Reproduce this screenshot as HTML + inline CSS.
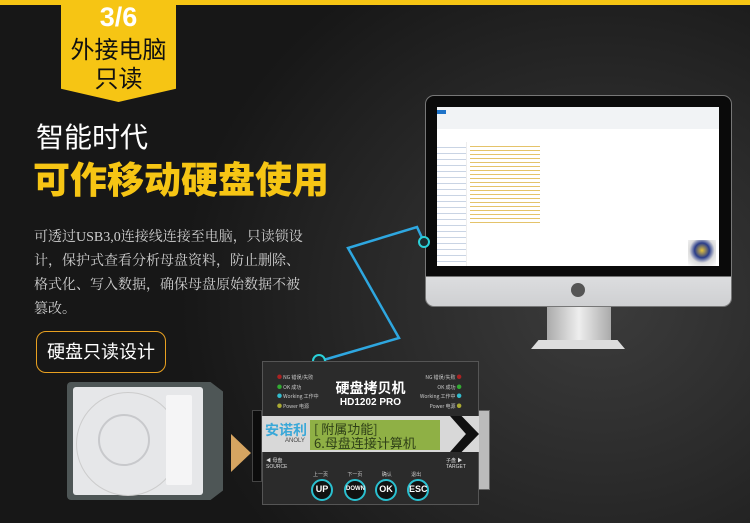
<!DOCTYPE html>
<html><head><meta charset="utf-8"><style>
*{margin:0;padding:0;box-sizing:border-box}
body{width:750px;height:523px;overflow:hidden;position:relative;font-family:"Liberation Sans","Noto Sans CJK SC",sans-serif;
background:radial-gradient(ellipse 420px 380px at 600px 300px,#3c3c3c 0%,#2a2a2a 50%,#171717 100%),#171717;}
.a{position:absolute}
.topbar{left:0;top:0;width:750px;height:5px;background:#f6c514}
.badge{left:61px;top:0;width:115px;height:102px;background:#f6c514;clip-path:polygon(0 0,100% 0,100% 87%,50% 100%,0 87%);text-align:center}
.t{white-space:nowrap}
.btn{position:absolute;top:0;width:22px;height:22px;border-radius:50%;border:2.5px solid #2ac0d0;background:#111;text-align:center;line-height:17px}
</style></head><body>
<div class="a topbar"></div>
<div class="a badge">
 <div class="a t" style="left:0;width:115px;top:2px;font-size:27px;font-weight:bold;color:#fff;line-height:30px">3/6</div>
 <div class="a t" style="left:0;width:115px;top:34px;font-size:24px;color:#111;line-height:28px;font-family:'Noto Sans CJK SC',sans-serif">外接电脑</div>
 <div class="a t" style="left:0;width:115px;top:63px;font-size:24px;color:#111;line-height:28px;font-family:'Noto Sans CJK SC',sans-serif">只读</div>
</div>
<div class="a t" style="left:36px;top:119px;font-size:28px;color:#fff;line-height:34px;font-family:'Noto Sans CJK SC',sans-serif">智能时代</div>
<div class="a t" style="left:33px;top:155px;font-size:37px;font-weight:900;color:#f6c514;line-height:44px;font-family:'Noto Sans CJK SC',sans-serif">可作移动硬盘使用</div>
<div class="a" style="left:34px;top:226px;width:270px;font-size:14px;line-height:24px;color:#cfcfcf;font-family:'Liberation Serif','Noto Serif CJK SC',serif">可透过USB3,0连接线连接至电脑，只读锁设计，保护式查看分析母盘资料，防止删除、格式化、写入数据，确保母盘原始数据不被篡改。</div>
<div class="a" style="left:36px;top:331px;width:130px;height:42px;border:1.5px solid #e8a020;border-radius:10px;color:#fff;font-size:18px;line-height:39px;text-align:center;font-family:'Noto Sans CJK SC',sans-serif">硬盘只读设计</div>

<!-- monitor -->
<div class="a" style="left:425px;top:95px;width:307px;height:212px;border-radius:9px;background:linear-gradient(#0a0a0a 0,#0a0a0a 86%,#dcdddf 86%,#cfd0d2 100%);border:1px solid #777"></div>
<div class="a" style="left:437px;top:107px;width:282px;height:159px;background:#fff"></div>
<div class="a" style="left:437px;top:107px;width:282px;height:22px;background:#f1f3f5"></div>
<div class="a" style="left:437px;top:110px;width:9px;height:4px;background:#1e73c8"></div>
<div class="a" style="left:437px;top:142px;width:30px;height:124px;border-right:1px solid #eee;background:repeating-linear-gradient(#fff 0,#fff 5px,#c9d4e4 5px,#c9d4e4 6px)"></div>
<div class="a" style="left:470px;top:144px;width:70px;height:80px;background:repeating-linear-gradient(#fff 0,#fff 2px,#e4c36a 2px,#e4c36a 3px,#fff 3px,#fff 4px)"></div>
<div class="a" style="left:688px;top:240px;width:28px;height:26px;background:radial-gradient(circle at 50% 40%,#e7c43a 0,#2a3d8a 35%,#ddd 60%,#fff 100%)"></div>
<div class="a" style="left:571px;top:283px;width:14px;height:14px;border-radius:50%;background:#555"></div>
<div class="a" style="left:547px;top:307px;width:64px;height:34px;background:linear-gradient(90deg,#aaa,#eee 50%,#aaa)"></div>
<div class="a" style="left:531px;top:340px;width:94px;height:9px;background:#ddd;clip-path:polygon(8% 0,92% 0,100% 100%,0 100%)"></div>

<!-- cable -->
<svg class="a" style="left:0;top:0" width="750" height="523">
<polyline points="320,361 399,338 348,248 417,227 424,242" fill="none" stroke="#2ea7e0" stroke-width="2.5"/>
<circle cx="319" cy="361" r="6" fill="#1b2b2e" stroke="#2ad0d8" stroke-width="2"/>
<circle cx="424" cy="242" r="5" fill="#1b2b2e" stroke="#2ad0d8" stroke-width="2"/>
<polygon points="231,434 251,453 231,472" fill="#d6a561"/>
</svg>

<!-- HDD -->
<div class="a" style="left:67px;top:382px;width:156px;height:118px;background:#4e5656;border-radius:4px;clip-path:polygon(0 0,92% 0,100% 8%,100% 92%,92% 100%,0 100%)"></div>
<div class="a" style="left:73px;top:387px;width:130px;height:108px;background:#e6e7e9;border-radius:3px"></div>
<div class="a" style="left:76px;top:392px;width:104px;height:104px;border-radius:50%;border:1px solid #ccc"></div>
<div class="a" style="left:98px;top:414px;width:52px;height:52px;border-radius:50%;border:2px solid #c8c9cc"></div>
<div class="a" style="left:166px;top:395px;width:26px;height:90px;background:#f5f5f6;border-radius:2px"></div>
<div class="a" style="left:252px;top:410px;width:10px;height:72px;background:#0c0c0c;border:1px solid #444"></div>
<div class="a" style="left:478px;top:410px;width:12px;height:80px;background:#bbb;border:1px solid #666"></div>

<!-- device -->
<div class="a" style="left:262px;top:361px;width:217px;height:144px;background:#2b2b2b;border:1px solid #555"></div>
<div class="a t" style="left:262px;top:378px;width:217px;text-align:center;color:#fff;font-weight:bold;font-size:14px;font-family:'Noto Sans CJK SC',sans-serif">硬盘拷贝机</div>
<div class="a t" style="left:262px;top:397px;width:217px;text-align:center;color:#fff;font-weight:bold;font-size:10px">HD1202 PRO</div>
<div class="a" style="left:277px;top:373px;font-size:5px;color:#ccc;line-height:9.5px;font-family:'Noto Sans CJK SC',sans-serif">
<span style="color:#a22">●</span> NG 错误/失败<br><span style="color:#3a3">●</span> OK 成功<br><span style="color:#3bc">●</span> Working 工作中<br><span style="color:#aa3">●</span> Power 电源</div>
<div class="a" style="left:420px;top:373px;font-size:5px;color:#ccc;line-height:9.5px;text-align:right;font-family:'Noto Sans CJK SC',sans-serif">
NG 错误/失败 <span style="color:#a22">●</span><br>OK 成功 <span style="color:#3a3">●</span><br>Working 工作中 <span style="color:#3bc">●</span><br>Power 电源 <span style="color:#aa3">●</span></div>
<div class="a" style="left:262px;top:416px;width:217px;height:36px;background:#d8d8d8"></div>
<div class="a t" style="left:265px;top:420px;color:#3aa8d8;font-weight:bold;font-size:14px;font-family:'Noto Sans CJK SC',sans-serif">安诺利</div>
<div class="a t" style="left:285px;top:438px;color:#444;font-size:6px">ANOLY</div>
<div class="a" style="left:310px;top:420px;width:130px;height:30px;background:#8fb045;font-size:13px;line-height:14px;color:#2f4018;padding:2px 0 0 4px;font-family:'Noto Sans CJK SC',sans-serif" >[ 附属功能]<br>6.母盘连接计算机</div>
<div class="a" style="left:450px;top:416px;width:29px;height:36px;background:#111;clip-path:polygon(0 0,40% 0,100% 50%,40% 100%,0 100%,55% 50%)"></div>
<div class="a t" style="left:266px;top:457px;color:#ddd;font-size:5px">◀ 母盘<br>SOURCE</div>
<div class="a t" style="left:446px;top:457px;color:#ddd;font-size:5px">子盘 ▶<br>TARGET</div>
<div class="a t" style="left:313px;top:471px;color:#ccc;font-size:5px;width:120px;word-spacing:18px">上一页 下一页 确认 退出</div>
<div class="a" style="left:311px;top:479px;width:200px;font-size:9px;color:#fff;font-weight:bold">
<span class="btn" style="left:0">UP</span>
<span class="btn" style="left:33px;font-size:6px">DOWN</span>
<span class="btn" style="left:64px">OK</span>
<span class="btn" style="left:96px">ESC</span>
</div>
</body></html>
